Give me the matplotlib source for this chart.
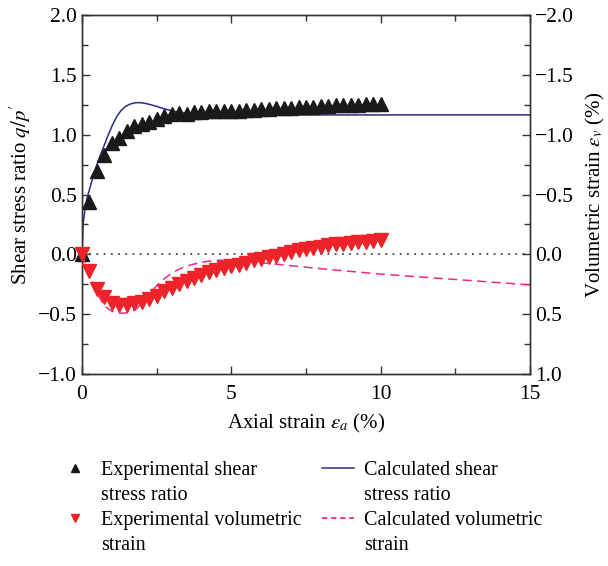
import numpy as np
import matplotlib
matplotlib.use("Agg")
import matplotlib.pyplot as plt
from matplotlib.ticker import MultipleLocator, FuncFormatter
from matplotlib.lines import Line2D

plt.rcParams.update({
    "font.family": "serif",
    "font.serif": ["Liberation Serif", "DejaVu Serif"],
    "mathtext.fontset": "stix",
    "font.size": 15,
})

# experimental points (axial strain %)
exp_strain = [0.0, 0.25, 0.5, 0.75, 1.0, 1.25, 1.5, 1.75, 2.0, 2.25, 2.5, 2.75,
              3.0, 3.25, 3.5, 3.75, 4.0, 4.25, 4.5, 4.75, 5.0, 5.25, 5.5, 5.75,
              6.0, 6.25, 6.5, 6.75, 7.0, 7.25, 7.5, 7.75, 8.0, 8.25, 8.5, 8.75,
              9.0, 9.25, 9.5, 9.75, 10.0]
exp_shear = [0.0, 0.44, 0.70, 0.83, 0.93, 0.975, 1.03, 1.07, 1.09, 1.11, 1.135, 1.155,
             1.17, 1.18, 1.175, 1.19, 1.19, 1.195, 1.195, 1.20, 1.20, 1.20, 1.205, 1.21,
             1.215, 1.215, 1.22, 1.22, 1.225, 1.23, 1.23, 1.235, 1.24, 1.24, 1.245, 1.25,
             1.25, 1.25, 1.255, 1.255, 1.26]
exp_vol = [0.0, 0.14, 0.29, 0.36, 0.41, 0.425, 0.42, 0.41, 0.40, 0.37, 0.35, 0.31,
           0.28, 0.25, 0.22, 0.195, 0.17, 0.15, 0.13, 0.115, 0.10, 0.09, 0.07, 0.05,
           0.036, 0.02, 0.01, -0.005, -0.02, -0.033, -0.048, -0.056, -0.065, -0.075, -0.083, -0.09,
           -0.098, -0.10, -0.105, -0.11, -0.12]

# calculated curves
calc_shear_x = [0.0, 0.04, 0.1, 0.17, 0.27, 0.38, 0.5, 0.6, 0.71, 0.85, 1.0, 1.16, 1.3,
                1.45, 1.6, 1.75, 1.89, 2.05, 2.28, 2.45, 2.6, 2.8, 2.95, 3.1, 3.28,
                3.45, 3.6, 3.8, 4.0, 4.3, 15.0]
calc_shear_y = [0.0, 0.26, 0.38, 0.47, 0.56, 0.66, 0.75, 0.82, 0.89, 0.98, 1.07, 1.15, 1.2,
                1.235, 1.255, 1.265, 1.268, 1.265, 1.252, 1.24, 1.228, 1.213, 1.203, 1.194, 1.186,
                1.179, 1.174, 1.17, 1.167, 1.165, 1.165]
calc_vol_x = [0.0, 0.1, 0.27, 0.4, 0.5, 0.65, 0.8, 1.0, 1.15, 1.3, 1.45, 1.65, 1.8, 2.0,
              2.2, 2.4, 2.55, 2.75, 2.95, 3.2, 3.5, 4.0, 4.5, 5.0, 5.5, 6.0, 8.0, 10.0,
              12.5, 15.0]
calc_vol_y = [0.0, 0.07, 0.18, 0.26, 0.32, 0.39, 0.44, 0.475, 0.487, 0.492, 0.49, 0.478, 0.46,
              0.41, 0.35, 0.29, 0.25, 0.205, 0.167, 0.13, 0.098, 0.065, 0.05, 0.047, 0.055,
              0.07, 0.12, 0.165, 0.21, 0.255]

fig = plt.figure(figsize=(6.08, 5.66), dpi=100)
ax = fig.add_axes([0.1349, 0.3392, 0.7368, 0.6343])
ax2 = ax.twinx()

ax.axhline(0, color="#444444", ls=(0, (1, 3)), lw=1.3, zorder=1)
ax.plot(calc_shear_x, calc_shear_y, color="#2b2b8c", lw=1.1, zorder=2)
ax.plot(exp_strain, exp_shear, ls="none", marker="^", ms=9.5, color="#1a1a1a",
        zorder=3, clip_on=False)

ax2.plot(calc_vol_x, calc_vol_y, color="#f0288c", lw=1.1, ls=(0, (6, 3.5)), zorder=2)
ax2.plot(exp_strain, exp_vol, ls="none", marker="v", ms=9.5, color="#ee2229",
         zorder=3, clip_on=False)

ax.set_xlim(0, 15)
ax.set_ylim(-1.0, 2.0)
ax2.set_ylim(1.0, -2.0)

fmt = FuncFormatter(lambda v, p: f"{v:.1f}".replace("-", "\u2212"))
ax.xaxis.set_major_locator(MultipleLocator(5))
ax.xaxis.set_minor_locator(MultipleLocator(2.5))
ax.yaxis.set_major_locator(MultipleLocator(0.5))
ax.yaxis.set_minor_locator(MultipleLocator(0.25))
ax2.yaxis.set_major_locator(MultipleLocator(0.5))
ax2.yaxis.set_minor_locator(MultipleLocator(0.25))
ax.yaxis.set_major_formatter(fmt)
ax2.yaxis.set_major_formatter(fmt)

ax.tick_params(which="both", direction="in", top=True, labelsize=15.5, color="#333333", width=1)
ax.tick_params(which="major", length=6)
ax.tick_params(which="minor", length=4)
ax.tick_params(axis="x", pad=8)
ax.tick_params(axis="y", which="both", right=False)
ax2.tick_params(which="both", direction="in", labelsize=15.5, color="#333333", width=1)
ax2.tick_params(which="major", length=6)
ax2.tick_params(which="minor", length=4)
for a in (ax, ax2):
    for s in a.spines.values():
        s.set_color("#333333")
        s.set_linewidth(1.0)

ax.set_xlabel(r"Axial strain $\varepsilon_a$ (%)", fontsize=15, labelpad=6)
ax.set_ylabel(r"Shear stress ratio $q/p^{\prime}$", fontsize=15, labelpad=4)
ax2.set_ylabel(r"Volumetric strain $\varepsilon_v$ (%)", fontsize=15, labelpad=7)

# legend: one row per text line so each symbol sits beside the first line
blank = Line2D([], [], ls="none")
handles = [
    Line2D([], [], ls="none", marker="^", ms=6, color="#1a1a1a"), blank,
    Line2D([], [], ls="none", marker="v", ms=6, color="#ee2229"), blank,
    Line2D([], [], color="#2b2b8c", lw=1.1), blank,
    Line2D([], [], color="#f0288c", lw=1.3, ls=(0, (3, 2))), blank,
]
labels = [
    "Experimental shear", "stress ratio",
    "Experimental volumetric", "strain",
    "Calculated shear", "stress ratio",
    "Calculated volumetric", "strain",
]
fig.legend(handles, labels, ncol=2, loc="upper left", bbox_to_anchor=(0.083, 0.2),
           frameon=False, fontsize=14.5, handlelength=1.6, handletextpad=0.5,
           columnspacing=1.0, labelspacing=0.3, borderaxespad=0.0)

fig.savefig("out.png", dpi=100, facecolor="white")
